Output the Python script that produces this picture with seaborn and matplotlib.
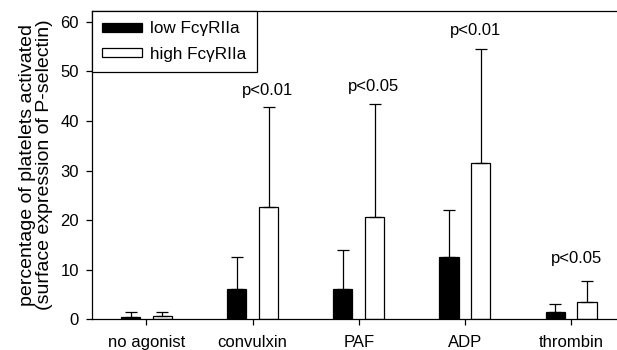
import matplotlib
matplotlib.use("Agg")
import matplotlib.pyplot as plt
import seaborn as sns
import pandas as pd

categories = ["no agonist", "convulxin", "PAF", "ADP", "thrombin"]
groups = ["low Fc\u03b3RIIa", "high Fc\u03b3RIIa"]
low_mean = [0.5, 6.1, 6.1, 12.6, 1.4]
low_sd = [0.9, 6.4, 7.9, 9.4, 1.6]
high_mean = [0.6, 22.6, 20.6, 31.6, 3.5]
high_sd = [0.9, 20.3, 22.9, 22.9, 4.3]
p_labels = ["", "p<0.01", "p<0.05", "p<0.01", "p<0.05"]
p_dx = [0, -0.01, -0.01, -0.05, -0.1]
p_dy = [0, 2.4, 2.6, 2.9, 3.6]
yticks = [0, 10, 20, 30, 40, 50, 60]

sns.set_theme(style="ticks")
plt.rcParams["font.family"] = ["Liberation Sans", "DejaVu Sans"]
for k in ["text.color", "axes.labelcolor", "xtick.color", "ytick.color", "axes.edgecolor"]:
    plt.rcParams[k] = "black"
FS = 12

df = pd.DataFrame({
    "agonist": categories * 2,
    "group": [groups[0]] * len(categories) + [groups[1]] * len(categories),
    "value": low_mean + high_mean,
})

fig = plt.figure(figsize=(6.17, 3.5), dpi=100)
ax = fig.add_axes([92 / 617, 1 - 319.3 / 350, 1 - 92 / 617 + 0.01, (319.3 - 11) / 350])

sns.barplot(data=df, x="agonist", y="value", hue="group", order=categories,
            hue_order=groups, palette=["black", "white"], edgecolor="black",
            linewidth=0.9, width=0.6, gap=0.4, errorbar=None, ax=ax)

sds = [low_sd, high_sd]
bar_containers = list(ax.containers)
for ci, cont in enumerate(bar_containers):
    for j, patch in enumerate(cont.patches):
        xc = patch.get_x() + patch.get_width() / 2
        h = patch.get_height()
        ax.errorbar(xc, h, yerr=[[0], [sds[ci][j]]], fmt="none", ecolor="black",
                    elinewidth=0.9, capsize=4, capthick=0.9, zorder=1)
        if ci == 1 and p_labels[j]:
            ax.text(xc + p_dx[j], h + sds[ci][j] + p_dy[j], p_labels[j],
                    ha="center", va="baseline", fontsize=FS, color="black")

ax.set_xlim(-0.513, 4.48 + 0.01 * 105 / 100)
ax.set_ylim(0, 62.2)
ax.set_yticks(yticks)
ax.set_xlabel("")
ax.set_ylabel("percentage of platelets activated\n(surface expression of P-selectin)",
              fontsize=14.0, linespacing=1.0, color="black")
ax.yaxis.set_label_coords(-0.073, 0.5)
ax.tick_params(axis="both", labelsize=FS, length=4, width=0.9, color="black",
               labelcolor="black", direction="out")
ax.tick_params(axis="x", pad=7)
ax.tick_params(axis="y", pad=5.5)
for s in ["left", "bottom", "top"]:
    ax.spines[s].set_visible(True)
    ax.spines[s].set_color("black")
    ax.spines[s].set_linewidth(0.9)
ax.spines["right"].set_visible(False)

leg = ax.legend(loc="upper left", borderaxespad=0, fontsize=12.3, frameon=True,
                fancybox=False, edgecolor="black", handlelength=2.3,
                handleheight=0.45, handletextpad=0.5, labelspacing=0.6,
                borderpad=0.6, title=None)
leg.get_frame().set_linewidth(0.9)
leg.get_frame().set_alpha(1)
for t in leg.get_texts():
    t.set_color("black")

fig.savefig("out.png", dpi=100)
